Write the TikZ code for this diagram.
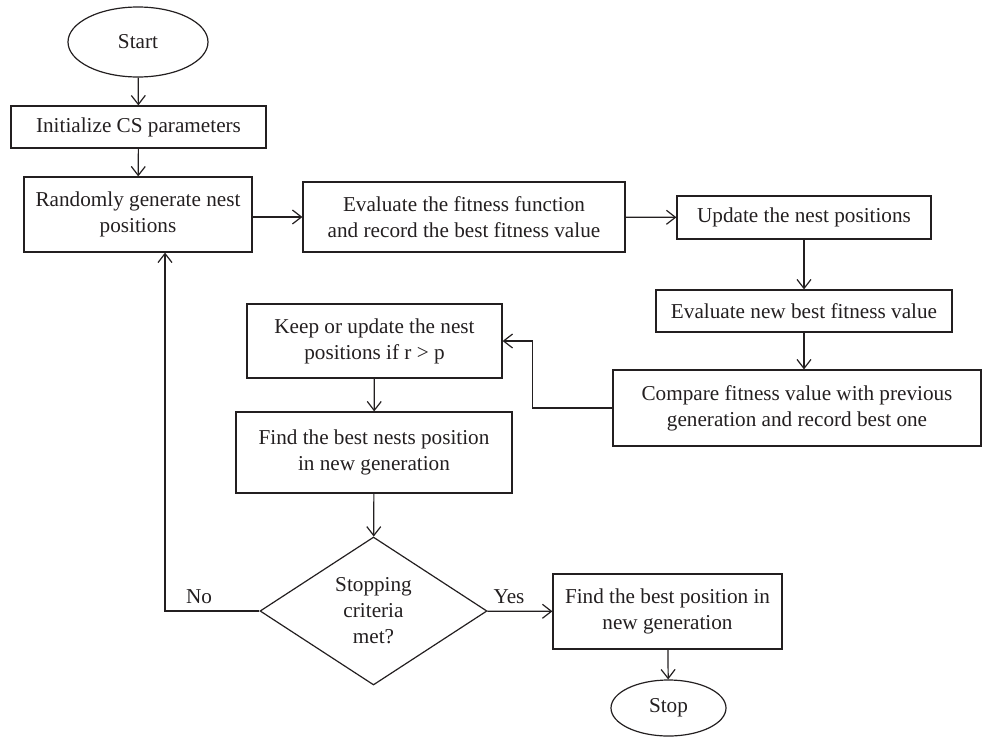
\documentclass[tikz,border=0pt]{standalone}
\usepackage{fontspec}
\setmainfont{Liberation Serif}
\usetikzlibrary{shapes.geometric,arrows.meta}
\definecolor{ink}{HTML}{231F20}
\begin{document}
\begin{tikzpicture}[x=1pt,y=-1pt,
  base/.style={draw=ink, line width=1.2pt, text=ink, align=center, inner sep=0pt,
    font=\fontsize{21.2}{26}\selectfont},
  boxw/.style 2 args={base, rectangle, minimum width=#1pt, minimum height=#2pt},
  term/.style 2 args={base, ellipse, minimum width=#1pt, minimum height=#2pt},
  arr/.style={draw=ink, line width=1.2pt, -{Straight Barb[length=9pt,width=14pt]}},
  lbl/.style={text=ink, font=\fontsize{21.2}{26}\selectfont, inner sep=0pt}]
\useasboundingbox (0,0) rectangle (982,737);
\node[term={140}{70}] (start) at (138,42) {Start};
\node[boxw={255}{42}] (init) at (138.5,127) {Initialize CS parameters};
\node[boxw={228}{75}] (rand) at (138,214.5) {Randomly generate nest\\positions};
\node[boxw={322}{70}] (eval) at (464,217) {Evaluate the fitness function\\and record the best fitness value};
\node[boxw={254}{43}] (upd) at (804,217.5) {Update the nest positions};
\node[boxw={296}{42}] (evn) at (804,311) {Evaluate new best fitness value};
\node[boxw={368}{76}] (cmp) at (797,408) {Compare fitness value with previous\\generation and record best one};
\node[boxw={255}{74}] (keep) at (374.5,341) {Keep or update the nest\\positions if r > p};
\node[boxw={276}{81}] (fn) at (374,452.5) {Find the best nests position\\in new generation};
\node[base, diamond, minimum width=227pt, minimum height=148pt] (dec) at (373.5,611) {Stopping\\criteria\\met?};
\node[boxw={229}{75}] (fbp) at (667.5,611.5) {Find the best position in\\new generation};
\node[term={115}{56}] (stop) at (668.5,708) {Stop};
\node[lbl] (no) at (199,597) {No};
\node[lbl] (yes) at (509,597) {Yes};
\draw[arr] (start) -- (init);
\draw[arr] (init) -- (rand);
\draw[arr] (rand.east |- eval.west) -- (eval.west);
\draw[arr] (eval) -- (upd);
\draw[arr] (upd) -- (evn);
\draw[arr] (evn.south) -- (evn.south |- cmp.north);
\draw[arr] (cmp.west) -- ++(-80,0) |- (keep.east);
\draw[arr] (keep) -- (fn);
\draw[arr] (fn) -- (dec);
\draw[arr] (dec) -- (fbp);
\draw[arr] (fbp) -- (stop);
\draw[arr] (dec.west) -| ([xshift=27pt]rand.south);
\end{tikzpicture}
\end{document}
